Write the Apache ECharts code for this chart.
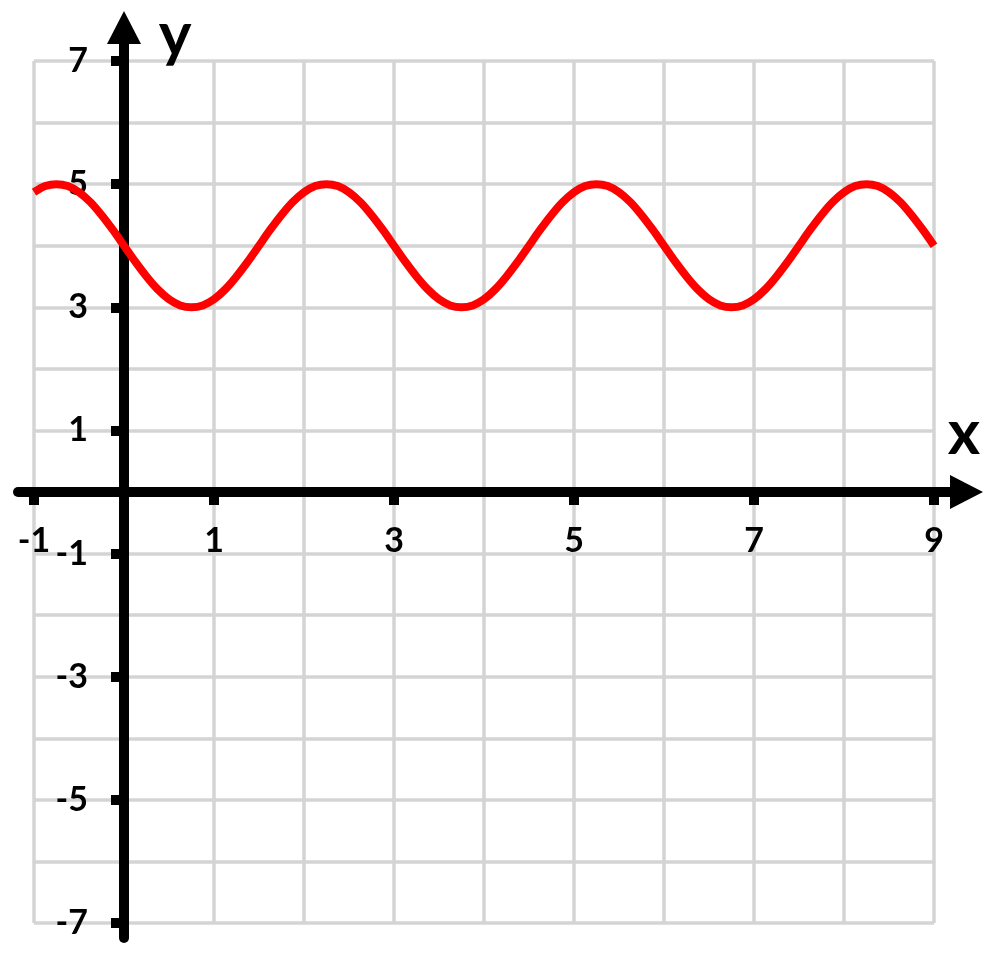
<!DOCTYPE html>
<html>
<head>
<meta charset="utf-8">
<title>y = 4 - sin curve</title>
<script src="https://cdn.jsdelivr.net/npm/echarts@6/dist/echarts.min.js"></script>
<style>
  html, body { margin: 0; padding: 0; background: #fff; }
  #main { width: 1000px; height: 966px; }
</style>
</head>
<body>
<div id="main"></div>
<script>
// tick labels on each axis
var xTicks = [-1, 1, 3, 5, 7, 9];
var yTicks = [-7, -5, -3, -1, 1, 3, 5, 7];

// red curve, every eighth of a unit
var curveX = [-1, -0.875, -0.75, -0.625, -0.5, -0.375, -0.25, -0.125,
  0, 0.125, 0.25, 0.375, 0.5, 0.625, 0.75, 0.875,
  1, 1.125, 1.25, 1.375, 1.5, 1.625, 1.75, 1.875,
  2, 2.125, 2.25, 2.375, 2.5, 2.625, 2.75, 2.875,
  3, 3.125, 3.25, 3.375, 3.5, 3.625, 3.75, 3.875,
  4, 4.125, 4.25, 4.375, 4.5, 4.625, 4.75, 4.875,
  5, 5.125, 5.25, 5.375, 5.5, 5.625, 5.75, 5.875,
  6, 6.125, 6.25, 6.375, 6.5, 6.625, 6.75, 6.875,
  7, 7.125, 7.25, 7.375, 7.5, 7.625, 7.75, 7.875,
  8, 8.125, 8.25, 8.375, 8.5, 8.625, 8.75, 8.875, 9];
var curveY = [4.87, 4.97, 5, 4.97, 4.87, 4.71, 4.5, 4.26,
  4, 3.74, 3.5, 3.29, 3.13, 3.03, 3, 3.03,
  3.13, 3.29, 3.5, 3.74, 4, 4.26, 4.5, 4.71,
  4.87, 4.97, 5, 4.97, 4.87, 4.71, 4.5, 4.26,
  4, 3.74, 3.5, 3.29, 3.13, 3.03, 3, 3.03,
  3.13, 3.29, 3.5, 3.74, 4, 4.26, 4.5, 4.71,
  4.87, 4.97, 5, 4.97, 4.87, 4.71, 4.5, 4.26,
  4, 3.74, 3.5, 3.29, 3.13, 3.03, 3, 3.03,
  3.13, 3.29, 3.5, 3.74, 4, 4.26, 4.5, 4.71,
  4.87, 4.97, 5, 4.97, 4.87, 4.71, 4.5, 4.26, 4];

var chart = echarts.init(document.getElementById('main'));

// plot box (grid lines) and how far the black axes run past it
var box = {left: 34, top: 61, width: 900, height: 862};
var ext = {left: 16, right: 16, top: 17, bottom: 15};

var xMin = xTicks[0], xMax = xTicks[xTicks.length - 1];
var yMin = yTicks[0], yMax = yTicks[yTicks.length - 1];
var xStep = xTicks[1] - xTicks[0];
var yStep = yTicks[1] - yTicks[0];
var xUnit = box.width / (xMax - xMin);
var yUnit = box.height / (yMax - yMin);

var gridColor = '#d4d4d4';
var font = 'Lato, "Open Sans", sans-serif';
var arrow = 'path://M0,33 L17,0 L34,33 Z';

var labelStyle = {
  color: '#000',
  fontFamily: font,
  fontWeight: 'bold',
  fontSize: 34
};

var data = [];
for (var i = 0; i < curveX.length; i++) {
  data.push([curveX[i], curveY[i]]);
}

var option = {
  animation: false,
  backgroundColor: '#fff',
  grid: [
    {
      left: box.left, top: box.top, width: box.width, height: box.height,
      containLabel: false, outerBoundsMode: 'none'
    },
    {
      left: box.left - ext.left,
      top: box.top - ext.top,
      width: box.width + ext.left + ext.right,
      height: box.height + ext.top + ext.bottom,
      containLabel: false, outerBoundsMode: 'none'
    }
  ],
  xAxis: [
    {
      // ticks + labels, moved up from the bottom edge onto y = 0
      type: 'value',
      gridIndex: 0,
      min: xMin,
      max: xMax,
      interval: xStep,
      position: 'bottom',
      offset: -(0 - yMin) * yUnit,
      axisLine: {show: false, onZero: false},
      axisTick: {show: true, length: 13, lineStyle: {color: '#000', width: 10}},
      axisLabel: Object.assign({margin: 32, hideOverlap: false}, labelStyle),
      splitLine: {show: true, lineStyle: {color: gridColor, width: 3.5}},
      minorTick: {show: false, splitNumber: 2},
      minorSplitLine: {show: true, lineStyle: {color: gridColor, width: 3.5}}
    },
    {
      // long black x axis with arrow head
      type: 'value',
      gridIndex: 1,
      min: xMin - ext.left / xUnit,
      max: xMax + ext.right / xUnit,
      axisLine: {
        show: true,
        onZero: true,
        symbol: ['none', arrow],
        symbolSize: [34, 33],
        symbolOffset: [0, 16.5],
        lineStyle: {color: '#000', width: 10}
      },
      axisTick: {show: false},
      axisLabel: {show: false},
      splitLine: {show: false}
    }
  ],
  yAxis: [
    {
      type: 'value',
      gridIndex: 0,
      min: yMin,
      max: yMax,
      interval: yStep,
      position: 'left',
      offset: -(0 - xMin) * xUnit,
      axisLine: {show: false, onZero: false},
      axisTick: {show: true, length: 13, lineStyle: {color: '#000', width: 10}},
      axisLabel: Object.assign({margin: 36, hideOverlap: false}, labelStyle),
      splitLine: {show: true, lineStyle: {color: gridColor, width: 3.5}},
      minorTick: {show: false, splitNumber: 2},
      minorSplitLine: {show: true, lineStyle: {color: gridColor, width: 3.5}}
    },
    {
      type: 'value',
      gridIndex: 1,
      min: yMin - ext.bottom / yUnit,
      max: yMax + ext.top / yUnit,
      axisLine: {
        show: true,
        onZero: true,
        symbol: ['none', arrow],
        symbolSize: [34, 33],
        symbolOffset: [0, 16.5],
        lineStyle: {color: '#000', width: 10}
      },
      axisTick: {show: false},
      axisLabel: {show: false},
      splitLine: {show: false}
    }
  ],
  graphic: [
    {
      type: 'text',
      x: 964,
      y: 434,
      z: 100,
      style: {
        text: 'x',
        font: 'bold 62px ' + font,
        fill: '#000',
        textAlign: 'center',
        textVerticalAlign: 'middle'
      }
    },
    {
      type: 'text',
      x: 175,
      y: 36,
      z: 100,
      style: {
        text: 'y',
        font: 'bold 62px ' + font,
        fill: '#000',
        textAlign: 'center',
        textVerticalAlign: 'middle'
      }
    }
  ],
  series: [
    {
      type: 'line',
      xAxisIndex: 0,
      yAxisIndex: 0,
      data: data,
      smooth: 0.3,
      showSymbol: false,
      clip: false,
      z: 5,
      lineStyle: {color: '#ff0000', width: 8}
    }
  ]
};

chart.setOption(option);
</script>
</body>
</html>
